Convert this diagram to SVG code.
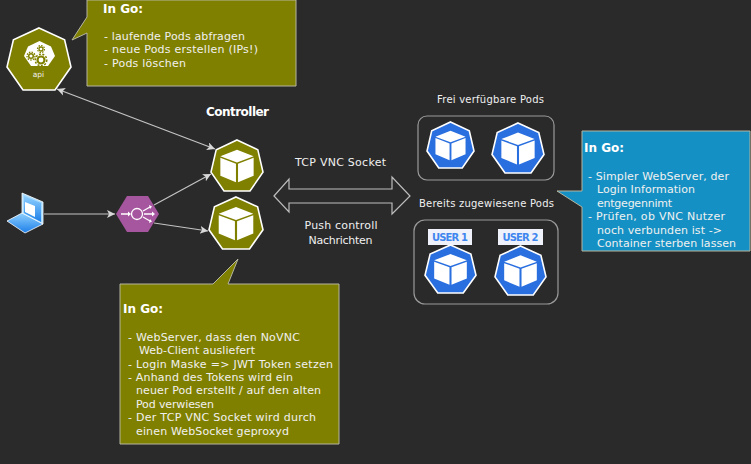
<svg xmlns="http://www.w3.org/2000/svg" xmlns:xlink="http://www.w3.org/1999/xlink" width="751" height="464" viewBox="0 0 751 464">
<style>
text{font-family:"DejaVu Sans","Liberation Sans",sans-serif;font-size:11px;fill:#f0f0f0}
.b{font-weight:bold;font-size:12px;fill:#fff}
.m{text-anchor:middle}
.u{font-weight:bold;font-size:10px;fill:#3f86ef;text-anchor:middle}
.call{stroke:#b5b5a0;stroke-width:1}
.hep{stroke:#fff;stroke-width:1.6}
.olive{fill:#808000}
.blue{fill:#2a6fdf}
.c{stroke:#c4c4c4;stroke-width:1.2;fill:none;marker-end:url(#a)}
.box{fill:none;stroke:#9a9a9a;stroke-width:1.2}
</style>
<defs>
<marker id="a" markerUnits="userSpaceOnUse" markerWidth="10" markerHeight="10" refX="8" refY="4" orient="auto"><path d="M0 0L8 4L0 8L2 4Z" fill="#d8d8d8"/></marker>
<marker id="s" markerUnits="userSpaceOnUse" markerWidth="10" markerHeight="10" refX="0" refY="4" orient="auto"><path d="M8 0L0 4L8 8L6 4Z" fill="#d8d8d8"/></marker>
<g id="cube"><path fill="#fff" d="M50 19L82 32L50 44L18 32ZM18 35L48 46.500V83L18 70ZM82 35L52 46.500V83L82 70Z"/></g>
<polygon id="h" vector-effect="non-scaling-stroke" points="50,0 90,19 100,63 75,100 25,100 0,63 10,19"/>
<linearGradient id="lg" x1="0" y1="0" x2="0" y2="1"><stop offset="0" stop-color="#8fd0ff"/><stop offset="1" stop-color="#1c7fe8"/></linearGradient>
</defs>
<rect width="751" height="464" fill="#2a2a2a"/>
<g id="connectors">
<path class="c" marker-start="url(#s)" d="M57 89L215 149"/>
<path class="c" d="M44 214H115"/>
<path class="c" d="M154 205L211 174"/>
<path class="c" d="M154 223L208 231"/>
<path fill="none" stroke="#bdbdbd" stroke-width="1.2" d="M274 196L289 179V189H392V177L410 196L392 214V203H289V212Z"/>
</g>
<g id="api">
<use xlink:href="#h" href="#h" class="hep olive" transform="translate(7 28) scale(.64 .62)"/>
<polygon fill="#fff" points="39.500,41 51,46.500 55,56 48,66 31,66 24,56 28,46.500"/>
<g fill="none" stroke="#808000">
<circle cx="41" cy="60" r="3.500" stroke-width="2.200"/><circle cx="41" cy="60" r="5.800" stroke-width="1.500" stroke-dasharray="2 1.500"/>
<circle cx="31" cy="56" r="2.300" stroke-width="1.500"/><circle cx="31" cy="56" r="4" stroke-width="1.300" stroke-dasharray="1.500 1.200"/>
<circle cx="41" cy="49" r="2" stroke-width="1.300"/><circle cx="41" cy="49" r="3.500" stroke-width="1.200" stroke-dasharray="1.500 1.200"/>
</g>
<text x="38.500" y="77" class="m" style="font-size:7.500px">api</text>
</g>
<g id="callout-api">
<path class="call olive" d="M87 0H296V86H87V33L72 40L87 17Z"/>
<text class="b" x="103" y="13" textLength="40">In Go:</text>
<text x="104" y="40" textLength="141">- laufende Pods abfragen</text>
<text x="104" y="53" textLength="154">- neue Pods erstellen (IPs!)</text>
<text x="104" y="67" textLength="82">- Pods löschen</text>
</g>
<text id="controller-label" class="b" x="206" y="116" textLength="63">Controller</text>
<g id="controller-1"><use xlink:href="#h" href="#h" class="hep olive" transform="translate(211 140) scale(.52 .51)"/><use xlink:href="#cube" href="#cube" transform="translate(211 140) scale(.52 .51)"/></g>
<g id="controller-2"><use xlink:href="#h" href="#h" class="hep olive" transform="translate(209 197) scale(.54 .52)"/><use xlink:href="#cube" href="#cube" transform="translate(209 197) scale(.54 .52)"/></g>
<g id="laptop">
<polygon fill="#a8dcff" stroke="#fff" stroke-width=".8" points="22,193 43,202 43,224 22,214"/>
<polygon fill="url(#lg)" points="24,196 41,203 41,222 24,213"/>
<polygon fill="#fff" points="25,202 35,206 35,217 25,212"/>
<polygon fill="url(#lg)" stroke="#fff" stroke-width=".8" points="7,221 22,213 43,224 25,233"/>
</g>
<g id="load-balancer">
<polygon fill="#a6569f" points="116,214 127,196 148,196 159,214 148,232 127,232"/>
<circle cx="137" cy="214" r="5.500" fill="none" stroke="#fff" stroke-width="1.300"/>
<path fill="none" stroke="#fff" stroke-width="1.300" d="M121 214H129M144 214H153M143 211L150 207M143 217L150 221"/>
<path fill="#fff" d="M128 211.500L131 214L128 216.500ZM152 211.500L155 214L152 216.500ZM149 205L152 206.500L150 209ZM149 223L152 221.500L150 219Z"/>
</g>
<text id="tcp-label" x="340.500" y="166" class="m" textLength="91">TCP VNC Socket</text>
<g id="push-label"><text x="341" y="229" class="m" textLength="73">Push controll</text><text x="340.500" y="244" class="m" textLength="64">Nachrichten</text></g>
<text id="free-label" x="437" y="103" style="font-size:10px" textLength="107">Frei verfügbare Pods</text>
<rect id="free-box" class="box" x="418" y="116" width="136" height="64" rx="9"/>
<g id="pod-free-1"><use xlink:href="#h" href="#h" class="hep blue" transform="translate(427 122) scale(.47 .46)"/><use xlink:href="#cube" href="#cube" transform="translate(427 122) scale(.47 .46)"/></g>
<g id="pod-free-2"><use xlink:href="#h" href="#h" class="hep blue" transform="translate(492 123) scale(.52 .5)"/><use xlink:href="#cube" href="#cube" transform="translate(492 123) scale(.52 .5)"/></g>
<text id="used-label" x="419" y="207" style="font-size:10px" textLength="135">Bereits zugewiesene Pods</text>
<rect id="used-box" class="box" x="414" y="220" width="144" height="84" rx="11"/>
<g id="pod-user-1"><rect x="428" y="229" width="44" height="16" fill="#eff2fa"/><text class="u" x="450" y="241" textLength="36">USER 1</text><use xlink:href="#h" href="#h" class="hep blue" transform="translate(425 245) scale(.51 .48)"/><use xlink:href="#cube" href="#cube" transform="translate(425 245) scale(.51 .48)"/></g>
<g id="pod-user-2"><rect x="498" y="229" width="45" height="16" fill="#eff2fa"/><text class="u" x="520.500" y="241" textLength="36">USER 2</text><use xlink:href="#h" href="#h" class="hep blue" transform="translate(495 246) scale(.51 .49)"/><use xlink:href="#cube" href="#cube" transform="translate(495 246) scale(.51 .49)"/></g>
<g id="callout-webserver">
<path class="call" fill="#1590c4" d="M582 131H750V251H582V207L557 191H582Z"/>
<text class="b" x="584" y="152" textLength="40">In Go:</text>
<text x="588" y="180" textLength="141">- Simpler WebServer, der</text>
<text x="597" y="193" textLength="98">Login Information</text>
<text x="597" y="207" textLength="75">entgegennimt</text>
<text x="588" y="220" textLength="137">- Prüfen, ob VNC Nutzer</text>
<text x="597" y="234" textLength="125">noch verbunden ist -&gt;</text>
<text x="597" y="247" textLength="139">Container sterben lassen</text>
</g>
<g id="callout-controller">
<path class="call olive" d="M120 284H213L238 259L228 284H339V444H120Z"/>
<text class="b" x="123" y="313" textLength="40">In Go:</text>
<text x="128" y="341" textLength="172">- WebServer, dass den NoVNC</text>
<text x="139" y="354" textLength="116">Web-Client ausliefert</text>
<text x="128" y="368" textLength="205">- Login Maske =&gt; JWT Token setzen</text>
<text x="128" y="381" textLength="165">- Anhand des Tokens wird ein</text>
<text x="136" y="394" textLength="185">neuer Pod erstellt / auf den alten</text>
<text x="136" y="408" textLength="78">Pod verwiesen</text>
<text x="128" y="421" textLength="188">- Der TCP VNC Socket wird durch</text>
<text x="136" y="435" textLength="153">einen WebSocket geproxyd</text>
</g>
</svg>
